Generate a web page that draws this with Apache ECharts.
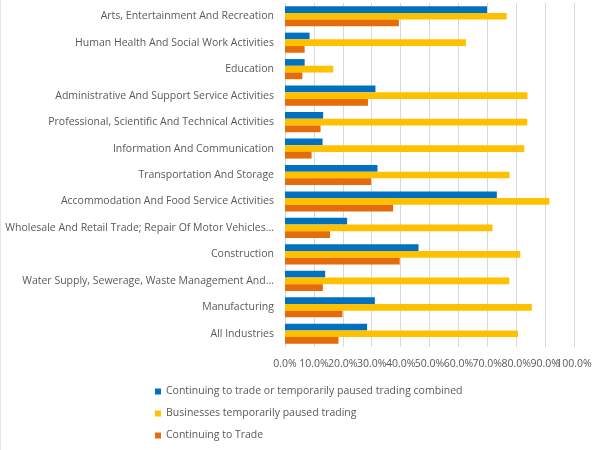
<!DOCTYPE html>
<html>
<head>
<meta charset="utf-8">
<script src="https://cdn.jsdelivr.net/npm/echarts@6/dist/echarts.min.js"></script>
<style>
  html, body { margin: 0; padding: 0; background: #fff; }
  #chart { width: 604px; height: 450px; }
</style>
</head>
<body>
<div id="chart"></div>
<script>
// categories, bottom to top (as drawn by the category axis)
const categories = [
  'All Industries',
  'Manufacturing',
  'Water Supply, Sewerage, Waste Management And Remediation Activities',
  'Construction',
  'Wholesale And Retail Trade; Repair Of Motor Vehicles And Motorcycles',
  'Accommodation And Food Service Activities',
  'Transportation And Storage',
  'Information And Communication',
  'Professional, Scientific And Technical Activities',
  'Administrative And Support Service Activities',
  'Education',
  'Human Health And Social Work Activities',
  'Arts, Entertainment And Recreation'
];

// values in percent, same order as categories
const combined = [28.4, 31.1, 13.9, 46.2, 21.5, 73.3, 32.0, 13.0, 13.2, 31.3, 6.8, 8.5, 69.9];
const paused   = [80.6, 85.4, 77.6, 81.4, 71.8, 91.5, 77.7, 82.8, 83.8, 83.9, 16.7, 62.6, 76.7];
const trading  = [18.5, 19.9, 13.1, 39.7, 15.6, 37.4, 29.8, 9.2, 12.3, 28.7, 6.0, 6.8, 39.4];

const seriesNames = [
  'Continuing to trade or temporarily paused trading combined',
  'Businesses temporarily paused trading',
  'Continuing to Trade'
];

const axisMin = 0;
const axisMax = 100;
const axisStep = 10;

const fontFamily = '"Open Sans", "Liberation Sans", sans-serif';
const textColor = '#595959';
const maxLabelChars = 52;

// cut long category names on a word boundary, like the spreadsheet does
function shortLabel(name) {
  if (name.length <= maxLabelChars) return name;
  let out = '';
  for (const word of name.split(' ')) {
    const next = out ? out + ' ' + word : word;
    if (next.length > maxLabelChars) break;
    out = next;
  }
  return out + '...';
}

const pct = v => v.toFixed(1) + '%';

const chart = echarts.init(document.getElementById('chart'));

const bar = (name, data, color) => ({
  name: name,
  type: 'bar',
  data: data,
  barGap: '0%',
  barCategoryGap: '24%',
  itemStyle: { color: color },
  animation: false
});

const labelStyle = {
  color: textColor,
  fontSize: 10.5,
  fontFamily: fontFamily,
  margin: 12
};

// echarts drops a neighbour when the end labels touch, so the last
// label (100.0%) sits on a second, otherwise empty axis
const valueAxis = (formatter, showGrid) => ({
  type: 'value',
  min: axisMin,
  max: axisMax,
  interval: axisStep,
  position: 'bottom',
  axisLine: { show: false },
  axisTick: { show: false },
  splitLine: { show: showGrid, lineStyle: { color: '#d9d9d9' } },
  axisLabel: Object.assign({ formatter: formatter }, labelStyle)
});

chart.setOption({
  animation: false,
  grid: { left: 285, right: 30, top: 3, bottom: 103, containLabel: false },
  graphic: [{
    type: 'line',
    shape: { x1: 0.5, y1: 0, x2: 0.5, y2: 450 },
    style: { stroke: '#e6e6e6', lineWidth: 1 }
  }],
  legend: {
    orient: 'vertical',
    left: 150,
    top: 381,
    itemWidth: 6,
    itemHeight: 6,
    itemGap: 11,
    icon: 'rect',
    textStyle: { color: textColor, fontSize: 10.5, fontFamily: fontFamily },
    data: seriesNames
  },
  xAxis: [
    valueAxis(v => (v === axisMax ? '' : pct(v)), true),
    valueAxis(v => (v === axisMax ? pct(v) : ''), false)
  ],
  yAxis: {
    type: 'category',
    data: categories,
    axisTick: { show: false },
    axisLine: { lineStyle: { color: '#d9d9d9' } },
    axisLabel: {
      color: textColor,
      fontSize: 10.5,
      fontFamily: fontFamily,
      margin: 11,
      formatter: shortLabel
    }
  },
  series: [
    bar(seriesNames[0], combined, '#0070C0'),
    bar(seriesNames[1], paused, '#FFC000'),
    bar(seriesNames[2], trading, '#E46C0A')
  ]
});
</script>
</body>
</html>
